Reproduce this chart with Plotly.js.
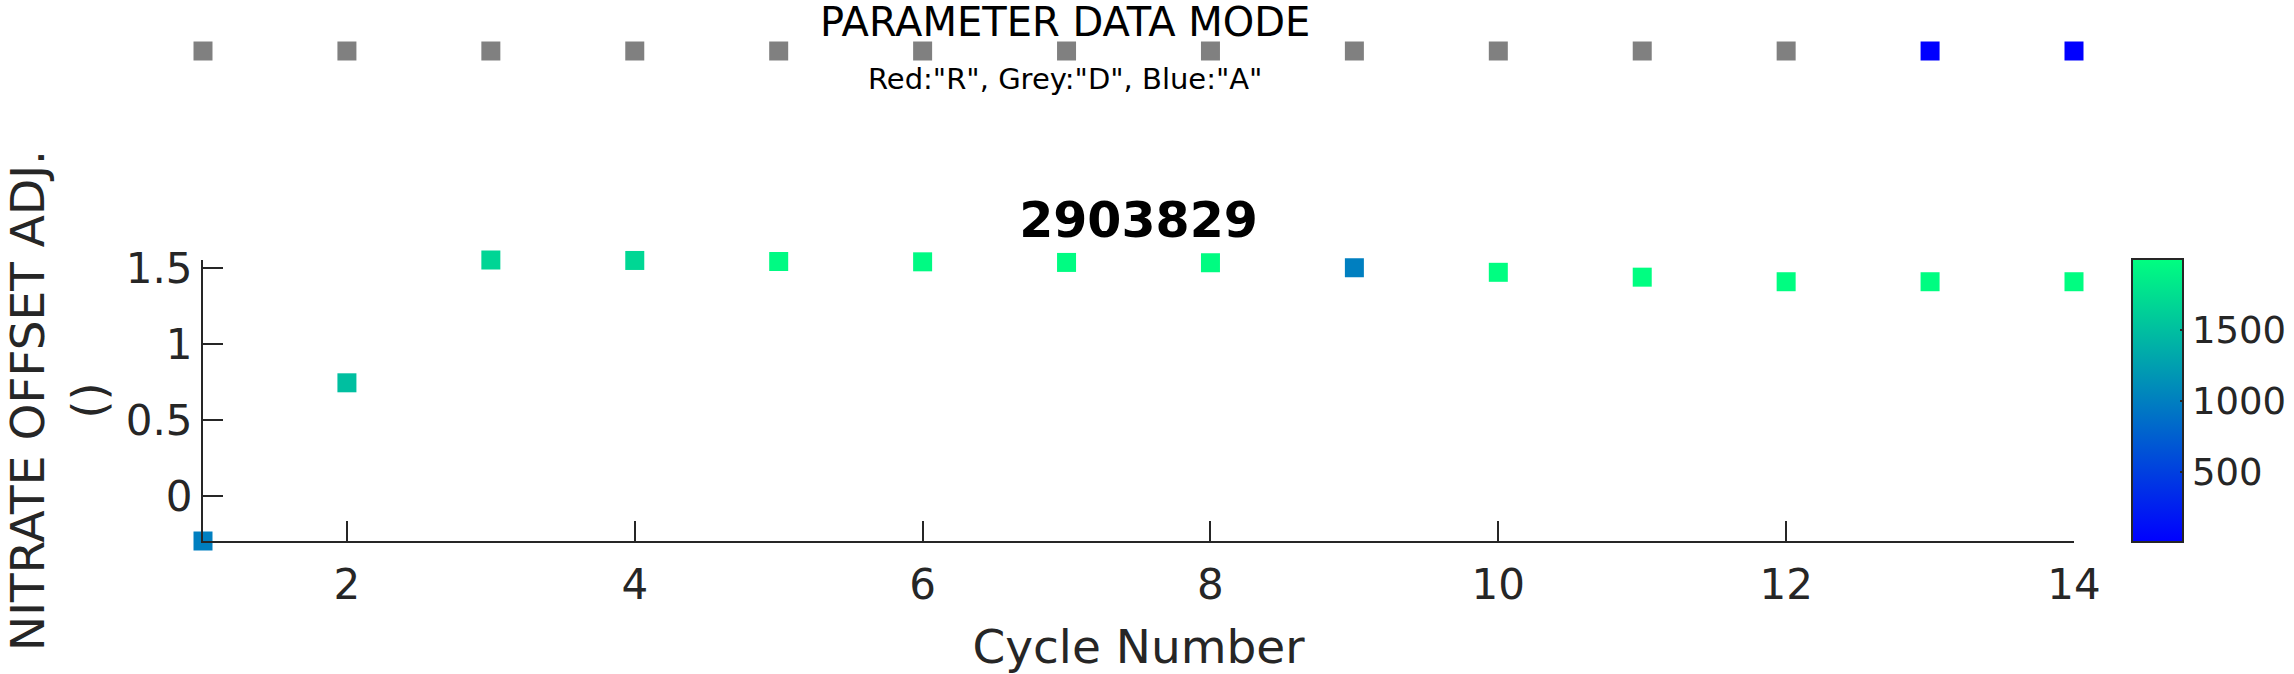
<!DOCTYPE html>
<html>
<head>
<meta charset="utf-8">
<script src="https://cdn.plot.ly/plotly-3.0.1.min.js"></script>
<style>
  html, body { margin: 0; padding: 0; background: #ffffff; }
  #chart { width: 2294px; height: 674px; }
</style>
</head>
<body>
<div id="chart"></div>
<script>
// ---- data ----
const cycles = [1, 2, 3, 4, 5, 6, 7, 8, 9, 10, 11, 12, 13, 14];
const nitrateOffsetAdj = [-0.296, 0.745, 1.553, 1.550, 1.543, 1.541, 1.537, 1.535, 1.502, 1.472, 1.440, 1.410, 1.410, 1.410];
const colorValues = [1000, 1500, 1670, 1690, 1960, 1960, 1975, 1980, 1000, 1990, 1990, 1985, 1985, 1985];
const dataMode = ['D', 'D', 'D', 'D', 'D', 'D', 'D', 'D', 'D', 'D', 'D', 'D', 'A', 'A'];
const modeColorMap = { R: '#ff0000', D: '#808080', A: '#0000ff' };
const yTickVals = [0, 0.5, 1, 1.5];
const yTickText = ['0', '0.5', '1', '1.5'];
const xTickVals = [2, 4, 6, 8, 10, 12, 14];
const cbTickVals = [500, 1000, 1500];
const colorMin = 7, colorMax = 2000;
const floatId = '2903829';

// ---- layout geometry ----
const W = 2294, H = 674;
const L = 203, R = 2074, T = 260, B = 541;
const font = 'DejaVu Sans, Liberation Sans, Arial, sans-serif';
const ink = '#262626';
const py = p => (B - p) / B;  // pixel -> paper y (top margin is 0)

const winter = [[0, 'rgb(0,0,255)'], [1, 'rgb(0,255,128)']];

const stripLevel = cycles.map(() => 0);

const traces = [
  {
    type: 'scatter', mode: 'markers',
    x: cycles, y: nitrateOffsetAdj,
    xaxis: 'x', yaxis: 'y',
    cliponaxis: false,
    marker: {
      symbol: 'square', size: 19,
      color: colorValues, colorscale: winter, cmin: colorMin, cmax: colorMax,
      line: { width: 0 },
      showscale: true,
      colorbar: {
        x: (2132 - L) / (R - L), xanchor: 'left', xpad: 0,
        y: py(400.5), yanchor: 'middle', ypad: 0,
        thickness: 51, thicknessmode: 'pixels',
        len: 283, lenmode: 'pixels',
        outlinewidth: 2, outlinecolor: ink,
        ticks: 'inside', ticklen: 4, tickcolor: ink, tickwidth: 2,
        tickvals: cbTickVals,
        tickfont: { family: font, size: 37, color: ink },
        borderwidth: 0
      }
    },
    hoverinfo: 'x+y'
  },
  {
    type: 'scatter', mode: 'markers',
    x: cycles, y: stripLevel,
    xaxis: 'x', yaxis: 'y2',
    cliponaxis: false,
    marker: { symbol: 'square', size: 19, color: dataMode.map(m => modeColorMap[m]), line: { width: 0 } },
    text: dataMode, hoverinfo: 'x+text'
  }
];

const layout = {
  width: W, height: H,
  margin: { l: L, r: W - R, t: 0, b: H - B, pad: 0 },
  paper_bgcolor: '#ffffff', plot_bgcolor: 'rgba(0,0,0,0)',
  showlegend: false,
  font: { family: font, color: ink },
  title: {
    text: floatId,
    font: { family: font, size: 49, color: '#000000', weight: 'bold' },
    x: 0.5, xref: 'paper', xanchor: 'center',
    y: 1 - 220 / H, yref: 'container', yanchor: 'middle'
  },
  xaxis: {
    range: [1, 14], anchor: 'y',
    tickvals: xTickVals,
    ticks: 'inside', ticklen: 20, tickwidth: 2, tickcolor: ink,
    ticklabelstandoff: 6,
    showline: true, linecolor: ink, linewidth: 2,
    showgrid: false, zeroline: false,
    tickfont: { family: font, size: 42, color: ink },
    title: { text: 'Cycle Number', font: { family: font, size: 47, color: ink }, standoff: 22 }
  },
  yaxis: {
    domain: [0, (B - T) / B],
    range: [-0.296, 1.553],
    tickvals: yTickVals, ticktext: yTickText,
    ticks: 'inside', ticklen: 20, tickwidth: 2, tickcolor: ink,
    showline: true, linecolor: ink, linewidth: 2,
    showgrid: false, zeroline: false,
    tickfont: { family: font, size: 42, color: ink },
    title: { text: 'NITRATE OFFSET ADJ.<br>()', font: { family: font, size: 47, color: ink }, standoff: 18 }
  },
  yaxis2: {
    domain: [py(51) - 0.05, py(51) + 0.05],
    range: [-1, 1],
    visible: false, showgrid: false, zeroline: false
  },
  annotations: [
    {
      text: 'PARAMETER DATA MODE', xref: 'paper', yref: 'paper',
      x: (1065 - L) / (R - L), y: py(22), xanchor: 'center', yanchor: 'middle',
      showarrow: false, font: { family: font, size: 40, color: '#000000' }
    },
    {
      text: 'Red:"R", Grey:"D", Blue:"A"', xref: 'paper', yref: 'paper',
      x: (1065 - L) / (R - L), y: py(79), xanchor: 'center', yanchor: 'middle',
      showarrow: false, font: { family: font, size: 29, color: '#000000' }
    }
  ]
};

Plotly.newPlot('chart', traces, layout, { displayModeBar: false, staticPlot: true });
</script>
</body>
</html>
